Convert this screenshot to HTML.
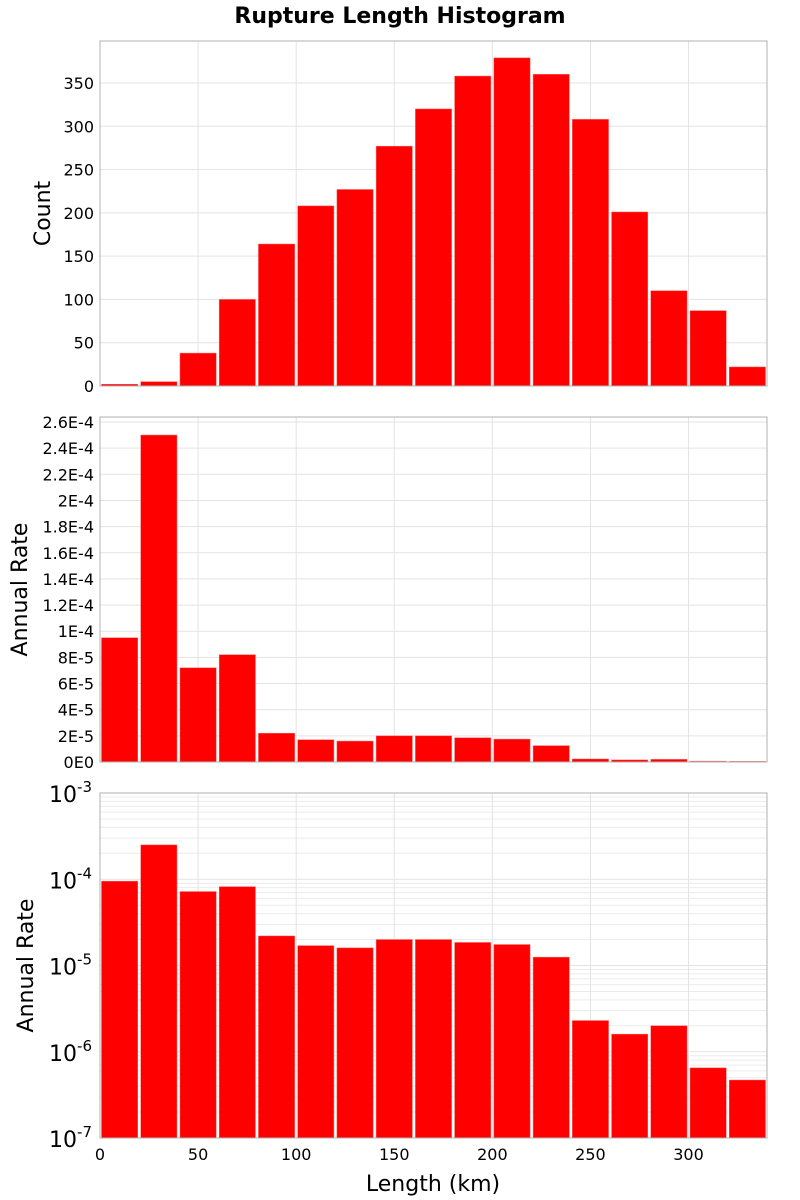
<!DOCTYPE html>
<html><head><meta charset="utf-8"><style>
body{margin:0;background:#fff}
svg{display:block;font-family:"DejaVu Sans","Liberation Sans",sans-serif}
</style></head><body>
<svg id="c" width="800" height="1200">
<text x="400" y="23" text-anchor="middle" font-size="22" font-weight="bold">Rupture Length Histogram</text>
</svg>
<script>
const binStarts=[0,20,40,60,80,100,120,140,160,180,200,220,240,260,280,300,320];
const binWidth=20;
const counts=[2,5,38,100,164,208,227,277,320,358,379,360,308,201,110,87,22];
const rates=[9.5e-5,2.5e-4,7.2e-5,8.2e-5,2.2e-5,1.7e-5,1.6e-5,2.0e-5,2.0e-5,1.85e-5,1.75e-5,1.25e-5,2.3e-6,1.6e-6,2.0e-6,6.5e-7,4.7e-7];
const countTicks=[0,50,100,150,200,250,300,350];
const rateTicks=[0,2e-5,4e-5,6e-5,8e-5,1e-4,1.2e-4,1.4e-4,1.6e-4,1.8e-4,2e-4,2.2e-4,2.4e-4,2.6e-4];
const rateTickLabels=["0E0","2E-5","4E-5","6E-5","8E-5","1E-4","1.2E-4","1.4E-4","1.6E-4","1.8E-4","2E-4","2.2E-4","2.4E-4","2.6E-4"];
const logExps=[-7,-6,-5,-4,-3];
const xTicks=[0,50,100,150,200,250,300];

const svg=document.getElementById('c');
const NS='http://www.w3.org/2000/svg';
const X0=100,X1=767,XMAX=340;
const sx=v=>X0+v*(X1-X0)/XMAX;
function el(tag,attrs,parent){const e=document.createElementNS(NS,tag);for(const k in attrs)e.setAttribute(k,attrs[k]);(parent||svg).appendChild(e);return e;}
function txt(x,y,s,size,anchor,parent){const t=el('text',{x:x,y:y,'font-size':size,'text-anchor':anchor},parent);t.textContent=s;return t;}

function panel(top,bottom,sy,yTickVals,yLabelFn,grid,values,name,title,minorVals){
  const g=el('g',{});
  
  
  (minorVals||[]).forEach(v=>{const y=sy(v);el('line',{x1:X0,x2:X1,y1:y,y2:y,stroke:'#ececec','stroke-width':1},g);});
  yTickVals.forEach(v=>{const y=sy(v);el('line',{x1:X0,x2:X1,y1:y,y2:y,stroke:'#e3e3e3','stroke-width':1},g);});
  xTicks.forEach(v=>{const x=sx(v);el('line',{x1:x,x2:x,y1:top,y2:bottom,stroke:'#e3e3e3','stroke-width':1},g);});
  values.forEach((v,i)=>{
    const x=sx(binStarts[i])+1.5,w=sx(binStarts[i]+binWidth)-sx(binStarts[i])-3;
    const y=Math.max(sy(v),top);
    const r=el('rect',{x:x,y:y,width:w,height:bottom-y,fill:'#ff0000',stroke:'#ff6060','stroke-width':0.5},g);
    
    
  });
  el('rect',{x:X0,y:top,width:X1-X0,height:bottom-top,fill:'none',stroke:'#b0b0b0','stroke-width':1},g);
  yTickVals.forEach((v,i)=>yLabelFn(v,i,sy(v),g));
  const cy=(top+bottom)/2;
  const t=txt(0,0,title,22,'middle',g);
  t.setAttribute('transform','translate('+(title==='Count'?50:(name==='log-rate-panel'?33:27))+','+cy+') rotate(-90)');
  
  
}

// Panel 1
(function(){const top=41,bottom=386,sy=v=>bottom-v*(bottom-top)/398.5;
panel(top,bottom,sy,countTicks,(v,i,y,g)=>{txt(94,y+6,String(v),16,'end',g);},true,counts,'count-panel','Count');})();
// Panel 2
(function(){const top=417,bottom=762,sy=v=>bottom-v*(bottom-top)/2.638e-4;
panel(top,bottom,sy,rateTicks,(v,i,y,g)=>{txt(94,y+6,rateTickLabels[i],16,'end',g);},true,rates,'rate-panel','Annual Rate');})();
// Panel 3 log
(function(){const top=793,bottom=1138,sy=v=>bottom-(Math.log10(v)+7)*(bottom-top)/4;
const majors=logExps.map(e=>Math.pow(10,e));
const minors=[];for(let e=-7;e<-3;e++)for(let m=2;m<10;m++)minors.push(m*Math.pow(10,e));
panel(top,bottom,sy,majors,(v,i,y,g)=>{const t=el('text',{x:92,y:y+9,'font-size':22,'text-anchor':'end'},g);
 const a=document.createElementNS(NS,'tspan');a.textContent='10';t.appendChild(a);
 const b=document.createElementNS(NS,'tspan');b.setAttribute('dy','-10');b.setAttribute('font-size','15');b.textContent=String(logExps[i]);t.appendChild(b);},true,rates,'log-rate-panel','Annual Rate',minors);
xTicks.forEach(v=>{const t=txt(sx(v),1160,String(v),16,'middle');});
const xt=txt(433,1191,'Length (km)',22,'middle');


})();
</script>
</body></html>
